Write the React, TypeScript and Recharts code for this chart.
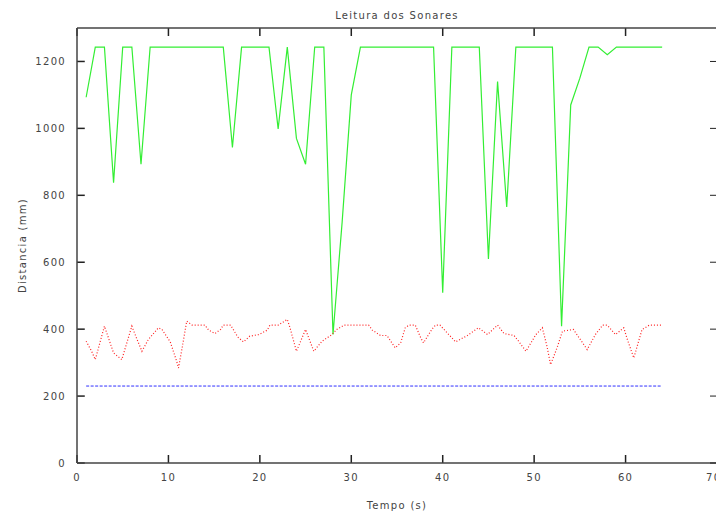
import React from "react";
import { LineChart, Line, XAxis, YAxis, ReferenceLine } from "recharts";

// sonar readings, one green sample per second starting at t = 1
const greenValues = [
  1093, 1243, 1243, 838, 1243, 1243, 893, 1243, 1243, 1243,
  1243, 1243, 1243, 1243, 1243, 1243, 943, 1243, 1243, 1243,
  1243, 998, 1243, 970, 893, 1243, 1243, 384, 720, 1100,
  1243, 1243, 1243, 1243, 1243, 1243, 1243, 1243, 1243, 509,
  1243, 1243, 1243, 1243, 610, 1140, 765, 1243, 1243, 1243,
  1243, 1243, 409, 1070, 1150, 1243, 1243, 1220, 1243, 1243,
  1243, 1243, 1243, 1243,
];

// red sonar, read as (time, value) pairs
const redTimes = [
  1, 1.6, 2, 3, 4, 4.9, 6, 6.5, 7.1, 7.8, 8.9, 9.3, 10.2, 10.9, 11.1, 11.5,
  12, 12.6, 14, 14.4, 15.1, 15.7, 16, 16.8, 17.6, 18.2, 18.9, 19.9, 20.8,
  21.1, 22, 23, 23.3, 24, 25, 25.9, 26.8, 27.9, 28.4, 29.2, 31.9, 32.3, 33.2,
  33.9, 34.8, 35.4, 35.9, 36.3, 37, 37.6, 37.9, 38.8, 39.2, 39.7, 41, 41.4,
  42.7, 43.9, 44.9, 46, 46.7, 47.8, 48.3, 49.1, 50.2, 50.9, 51.4, 51.8, 52.5,
  53.1, 54.3, 55.8, 56.7, 57.5, 58, 58.9, 59.8, 60.2, 60.9, 61.8, 62.6, 64,
];
const redValues = [
  364, 334, 309, 409, 329, 309, 409, 374, 334, 369, 404, 399, 362, 304, 284, 344,
  424, 412, 412, 397, 387, 399, 412, 412, 376, 362, 379, 384, 397,
  412, 412, 429, 404, 334, 399, 334, 364, 384, 399, 412, 412, 397, 381,
  381, 344, 359, 404, 412, 412, 374, 359, 399, 412, 412, 374, 362,
  381, 404, 384, 412, 387, 381, 364, 334, 384, 404, 349, 294, 344,
  394, 399, 339, 384, 412, 412, 384, 404, 369, 314, 399, 412, 412,
];

// blue sonar stays flat
const blueTimes = [1, 64];
const blueValues = [230, 230];

const xTicks = [0, 10, 20, 30, 40, 50, 60, 70];
const yTicks = [0, 200, 400, 600, 800, 1000, 1200];
const X_MAX = 70;
const Y_MAX = 1300;
// inward tick length (~8px) expressed in axis units
const TICK_X = 0.85;
const TICK_Y = 24;

const greenData = greenValues.map((v, i) => ({ t: i + 1, v }));
const redData = redTimes.map((t, i) => ({ t, v: redValues[i] }));
const blueData = blueTimes.map((t, i) => ({ t, v: blueValues[i] }));

const font = "'DejaVu Sans', sans-serif";
const axisColor = "#444";
const tickColor = "#222";
const textStyle = { fill: "#444", fontSize: 10, fontFamily: font, letterSpacing: 1.3 };
const frame = { stroke: axisColor, strokeWidth: 1.5 };

const noLabel = () => <g />;

export default function App() {
  return (
    <div
      style={{
        position: "absolute",
        left: 0,
        top: 0,
        width: 716,
        height: 513,
        overflow: "hidden",
        background: "#fff",
      }}
    >
      <LineChart width={720} height={513} margin={{ top: 28, right: 3, bottom: 0, left: 0 }}>
        <XAxis
          dataKey="t"
          type="number"
          domain={[0, X_MAX]}
          ticks={xTicks}
          allowDataOverflow
          height={50}
          tickSize={0}
          tickMargin={11}
          tickLine={false}
          tick={textStyle}
          axisLine={frame}
          label={{ value: "Tempo (s)", position: "insideBottom", offset: 4, style: textStyle }}
        />
        <YAxis
          type="number"
          domain={[0, Y_MAX]}
          ticks={yTicks}
          width={77}
          tickSize={0}
          tickMargin={11}
          tickLine={false}
          tick={textStyle}
          axisLine={frame}
          label={{
            value: "Distancia (mm)",
            angle: -90,
            position: "insideLeft",
            offset: 22,
            style: { ...textStyle, textAnchor: "middle" },
          }}
        />
        <XAxis
          xAxisId="top"
          orientation="top"
          mirror
          type="number"
          domain={[0, X_MAX]}
          ticks={xTicks}
          height={1}
          tick={noLabel}
          tickLine={false}
          axisLine={frame}
          label={{ value: "Leitura dos Sonares", position: "top", offset: 9, style: textStyle }}
        />
        <YAxis
          yAxisId="right"
          orientation="right"
          mirror
          type="number"
          domain={[0, Y_MAX]}
          ticks={yTicks}
          width={1}
          tickSize={7}
          tick={noLabel}
          stroke={tickColor}
          axisLine={frame}
          tickLine
        />
        {/* invisible series so the frame-only axes get drawn */}
        <Line data={blueData} dataKey="v" xAxisId="top" yAxisId="right" stroke="transparent" dot={false} isAnimationActive={false} />

        {/* gnuplot-like inward tick marks */}
        {xTicks.map((t) => (
          <ReferenceLine
            key={`b${t}`}
            segment={[{ x: t, y: 0 }, { x: t, y: TICK_Y }]}
            stroke={tickColor}
            strokeWidth={1.5}
            ifOverflow="visible"
          />
        ))}
        {xTicks.map((t) => (
          <ReferenceLine
            key={`t${t}`}
            segment={[{ x: t, y: Y_MAX - TICK_Y }, { x: t, y: Y_MAX }]}
            stroke={tickColor}
            strokeWidth={1.5}
            ifOverflow="visible"
          />
        ))}
        {yTicks.map((v) => (
          <ReferenceLine
            key={`l${v}`}
            segment={[{ x: 0, y: v }, { x: TICK_X, y: v }]}
            stroke={tickColor}
            strokeWidth={1.5}
            ifOverflow="visible"
          />
        ))}

        <Line
          data={greenData}
          dataKey="v"
          type="linear"
          stroke="#33ee33"
          strokeWidth={1.2}
          dot={false}
          isAnimationActive={false}
        />
        <Line
          data={redData}
          dataKey="v"
          type="linear"
          stroke="#ff2020"
          strokeWidth={1.2}
          strokeDasharray="1 2"
          dot={false}
          isAnimationActive={false}
        />
        <Line
          data={blueData}
          dataKey="v"
          type="linear"
          stroke="#3030ff"
          strokeWidth={1}
          strokeDasharray="3 1.5"
          dot={false}
          isAnimationActive={false}
        />
      </LineChart>
    </div>
  );
}
